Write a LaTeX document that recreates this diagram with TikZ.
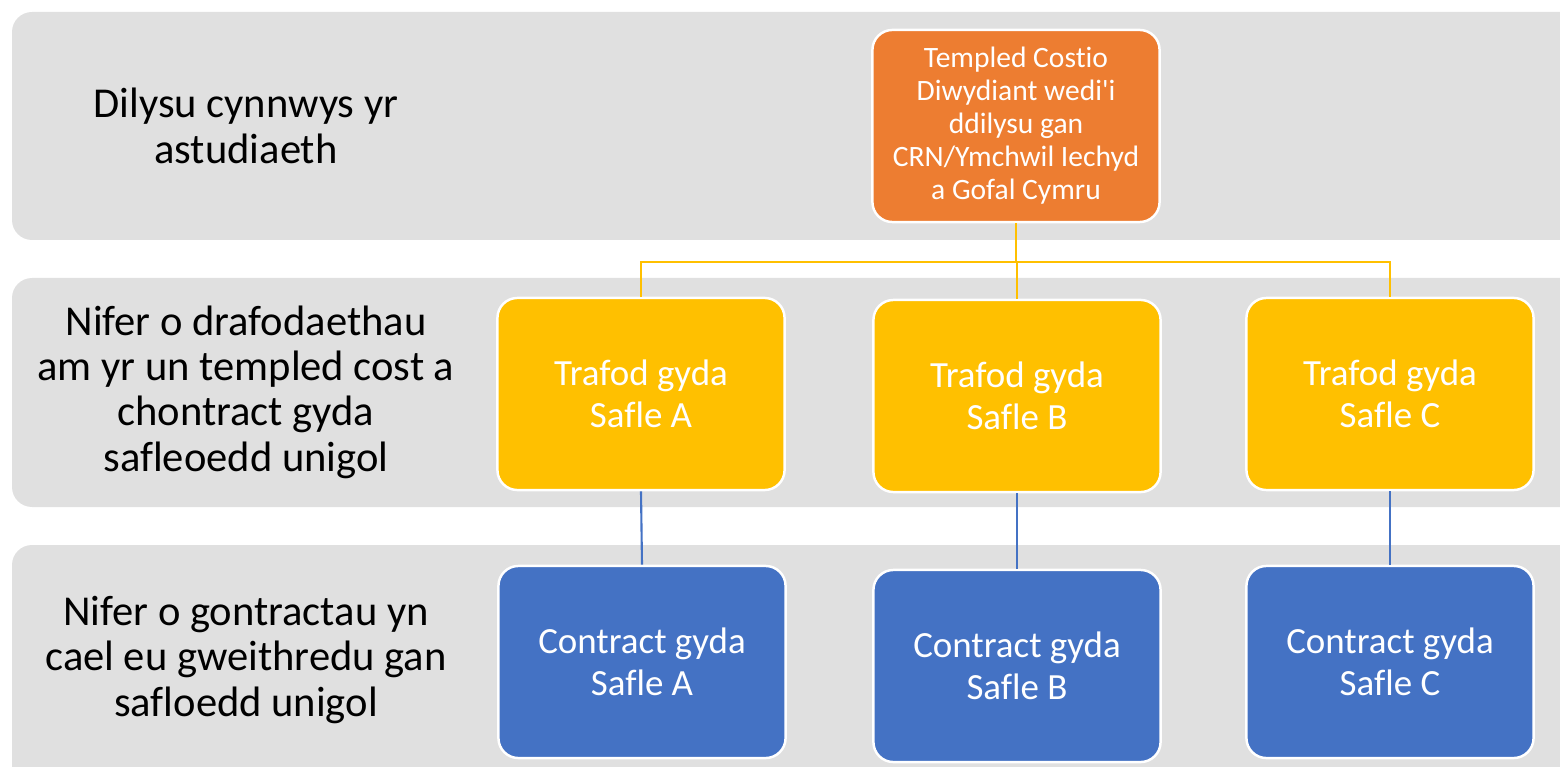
\documentclass[tikz,border=0pt]{standalone}
\usepackage{fontspec}
\setmainfont{Carlito}[Ligatures={TeXOff,NoCommon}]
\definecolor{bandgray}{HTML}{E0E0E0}
\definecolor{costorange}{HTML}{ED7D31}
\definecolor{talkyellow}{HTML}{FFC000}
\definecolor{dealblue}{HTML}{4472C4}
\begin{document}
\begin{tikzpicture}[x=0.01cm, y=-0.01cm,
    band/.style={fill=bandgray, rounded corners=0.2cm},
    rowlabel/.style={align=center, text=black, font=\fontsize{12.1}{12.9}\selectfont},
    box/.style={rounded corners=0.2cm, draw=white, line width=0.7pt, text=white,
        align=center, minimum width=2.87cm, minimum height=1.92cm, inner sep=0pt},
    topbox/.style={box, fill=costorange, font=\fontsize{8.4}{9.4}\selectfont},
    talkbox/.style={box, fill=talkyellow, font=\fontsize{10.5}{11.9}\selectfont},
    dealbox/.style={box, fill=dealblue, font=\fontsize{10.5}{11.9}\selectfont}]
    \useasboundingbox (0, 0) rectangle (1560, 767);
    \begin{scope}
        \clip (0, 0) rectangle (1560, 767);
        \fill[band] (12, 12) rectangle (1620, 240);
        \fill[band] (12, 278) rectangle (1620, 507);
        \fill[band] (12, 545) rectangle (1620, 820);
    \end{scope}

    \node[rowlabel] (check) at (246, 126) {Dilysu cynnwys yr\\astudiaeth};
    \node[rowlabel] (talks) at (246, 392) {Nifer o drafodaethau\\am yr un templed cost a\\chontract gyda\\safleoedd unigol};
    \node[rowlabel] (deals) at (246, 660) {Nifer o gontractau yn\\cael eu gweithredu gan\\safloedd unigol};

    \node[topbox] (templed) at (1016, 126) {Templed Costio\\Diwydiant wedi'i\\ddilysu gan\\CRN/Ymchwil Iechyd\\a Gofal Cymru};

    \node[talkbox] (trafA) at (641, 394) {Trafod gyda\\Safle A};
    \node[talkbox] (trafB) at (1017, 396) {Trafod gyda\\Safle B};
    \node[talkbox] (trafC) at (1390, 394) {Trafod gyda\\Safle C};

    \node[dealbox] (contA) at (642, 662) {Contract gyda\\Safle A};
    \node[dealbox] (contB) at (1017, 666) {Contract gyda\\Safle B};
    \node[dealbox] (contC) at (1390, 662) {Contract gyda\\Safle C};

    \coordinate (hub) at (1016, 262);
    \draw[talkyellow, line width=0.6pt] (templed.south) -- (hub);
    \draw[talkyellow, line width=0.6pt] (hub) -| (trafA.north);
    \draw[talkyellow, line width=0.6pt] (hub) -| (trafB.north);
    \draw[talkyellow, line width=0.6pt] (hub) -| (trafC.north);

    \draw[dealblue, line width=0.6pt] (trafA.south) -- (contA.north);
    \draw[dealblue, line width=0.6pt] (trafB.south) -- (contB.north);
    \draw[dealblue, line width=0.6pt] (trafC.south) -- (contC.north);
\end{tikzpicture}
\end{document}
